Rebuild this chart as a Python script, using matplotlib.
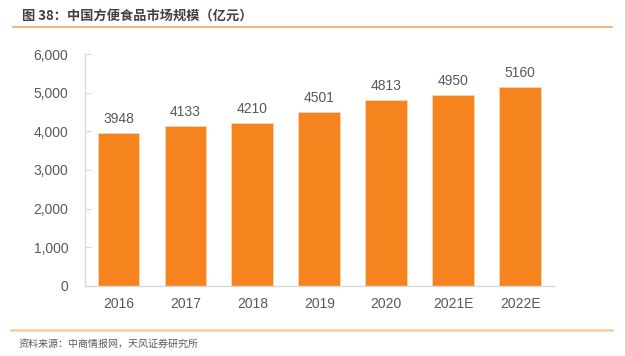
import matplotlib.pyplot as plt

plt.rcParams['font.family'] = ['Liberation Sans', 'Noto Sans CJK SC', 'DejaVu Sans']

# Market size of convenience food in China (100 million yuan)
years = ['2016', '2017', '2018', '2019', '2020', '2021E', '2022E']
values = [3948, 4133, 4210, 4501, 4813, 4950, 5160]
yticks = [0, 1000, 2000, 3000, 4000, 5000, 6000]

bar_color = '#F5841F'
text_color = '#595959'
axis_color = '#D9D9D9'

fig = plt.figure(figsize=(6.25, 3.56), dpi=100)
ax = fig.add_axes([0.136, 0.197, 0.750, 0.651])

x = range(len(years))
bars = ax.bar(x, values, width=0.625, color=bar_color, edgecolor='#FBD3AE', linewidth=0.6)
for xi, v in zip(x, values):
    ax.annotate(str(v), (xi, v), xytext=(0, 5), textcoords='offset points',
                ha='center', va='bottom', fontsize=10, color=text_color)

ax.set_xlim(-0.5, len(years) - 0.5)
ax.set_ylim(0, 6000)
ax.set_yticks(yticks)
ax.set_yticklabels([f'{t:,}' for t in yticks])
ax.set_xticks(list(x))
ax.set_xticklabels(years)

for side in ['top', 'right']:
    ax.spines[side].set_visible(False)
for side in ['left', 'bottom']:
    ax.spines[side].set_color(axis_color)
    ax.spines[side].set_linewidth(1.0)

ax.tick_params(axis='y', direction='in', length=4, color=axis_color,
               labelsize=10, labelcolor=text_color, pad=12)
ax.tick_params(axis='x', length=0, labelsize=10, labelcolor=text_color, pad=8)

# title and source lines
fig.text(0.035, 0.955, '图 38：中国方便食品市场规模（亿元）', fontsize=9.5, fontweight='bold',
         color='#404040', va='center', family=['Noto Sans CJK SC', 'DejaVu Sans'])
fig.add_artist(plt.Line2D([0.021, 0.979], [0.924, 0.924], color='#F4A86A', linewidth=1.2))
fig.add_artist(plt.Line2D([0.018, 0.979], [0.073, 0.073], color='#FAC9A0', linewidth=1.8))
fig.text(0.029, 0.035, '资料来源：中商情报网，天风证券研究所', fontsize=7.2, color=text_color,
         va='center', family=['Noto Sans CJK SC', 'DejaVu Sans'])

fig.savefig('out.png', dpi=100)
